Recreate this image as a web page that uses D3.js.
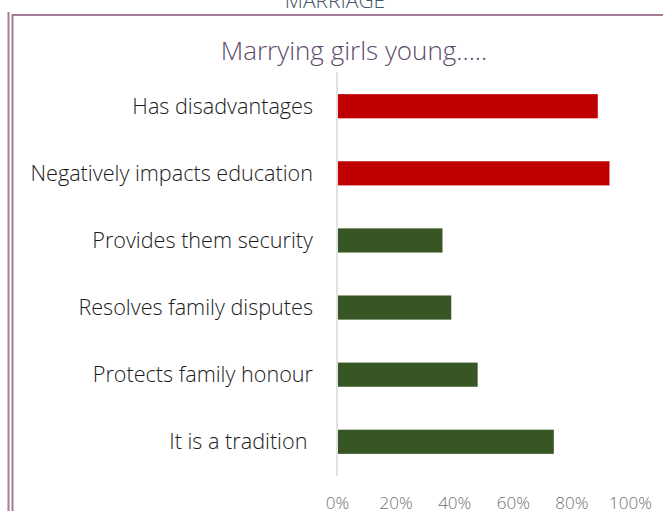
<!DOCTYPE html>
<html>
<head>
<meta charset="utf-8">
<script src="https://cdn.jsdelivr.net/npm/d3@7"></script>
<style>
  html, body { margin: 0; padding: 0; background: #fff; }
  svg { display: block; font-family: "Open Sans", Lato, sans-serif; font-weight: 300; }
</style>
</head>
<body>
<svg id="chart" width="663" height="511"></svg>
<script>
const categories = [
  "Has disadvantages",
  "Negatively impacts education",
  "Provides them security",
  "Resolves family disputes",
  "Protects family honour",
  "It is a tradition "
];
const values = [0.89, 0.93, 0.36, 0.39, 0.48, 0.74];
const barColors = ["#c00000", "#c00000", "#375623", "#375623", "#375623", "#375623"];
const tickValues = [0, 0.2, 0.4, 0.6, 0.8, 1];

const svg = d3.select("#chart");
const border = "#a67b98";

// double frame on the left / top
svg.append("line").attr("x1", 8.5).attr("x2", 8.5).attr("y1", 12).attr("y2", 511)
  .attr("stroke", border).attr("stroke-width", 2);
svg.append("line").attr("x1", 12.5).attr("x2", 12.5).attr("y1", 14).attr("y2", 511)
  .attr("stroke", border).attr("stroke-width", 2);
svg.append("line").attr("x1", 12).attr("x2", 663).attr("y1", 15).attr("y2", 15)
  .attr("stroke", border).attr("stroke-width", 2);

// cut off heading above the frame
svg.append("text")
  .attr("x", 335).attr("y", 8)
  .attr("text-anchor", "middle")
  .attr("fill", "#44546a")
  .style("font-size", "21px")
  .text("MARRIAGE");

svg.append("text")
  .attr("x", 354).attr("y", 60)
  .attr("text-anchor", "middle")
  .attr("fill", "#5f4b6b")
  .style("font-size", "26px")
  .text("Marrying girls young.....");

const x = d3.scaleLinear().domain([0, 1]).range([337, 630]);
const y = d3.scaleBand().domain(categories).range([72, 476])
  .paddingInner(0.64).paddingOuter(0.33);

svg.append("g").selectAll("rect").data(categories).join("rect")
  .attr("x", x(0) + 1)
  .attr("y", d => y(d))
  .attr("width", (d, i) => x(values[i]) - x(0) - 1)
  .attr("height", y.bandwidth())
  .attr("fill", (d, i) => barColors[i]);

// vertical category axis
svg.append("line")
  .attr("x1", x(0)).attr("x2", x(0))
  .attr("y1", 72).attr("y2", 476)
  .attr("stroke", "#d9d9d9").attr("stroke-width", 1.5);

svg.append("g").selectAll("text").data(categories).join("text")
  .attr("x", x(0) - 24)
  .attr("y", d => y(d) + y.bandwidth() / 2)
  .attr("dy", "0.35em")
  .attr("text-anchor", "end")
  .attr("fill", "#1a1a1a")
  .style("font-size", "21.6px")
  .style("white-space", "pre")
  .text(d => d);

const xAxis = svg.append("g")
  .attr("transform", "translate(0,497)")
  .call(d3.axisBottom(x).tickValues(tickValues).tickFormat(d3.format(".0%"))
    .tickSize(0).tickPadding(0));
xAxis.select(".domain").remove();
xAxis.selectAll("text")
  .attr("fill", "#707070")
  .style("font-size", "17px")
  .style("font-family", "'Open Sans', Lato, sans-serif")
  .style("font-weight", 300);
</script>
</body>
</html>
